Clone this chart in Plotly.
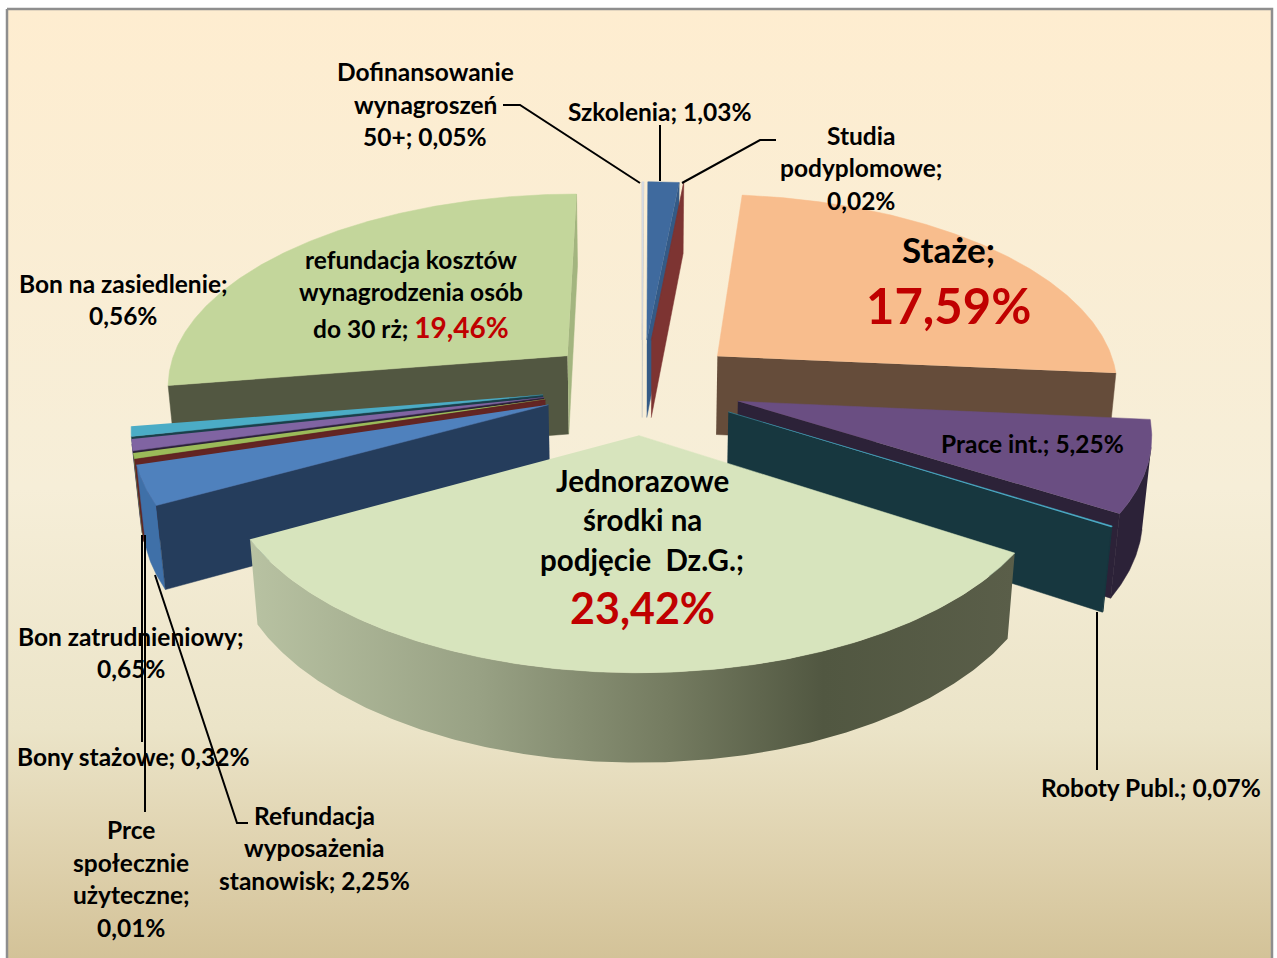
import numpy as np
import plotly.graph_objects as go

# ---- data (clockwise from 12 o'clock) ----
names = ["Dofinansowanie wynagroszeń 50+", "Szkolenia", "Studia podyplomowe", "Staże",
         "Prace int.", "Roboty Publ.", "Jednorazowe środki na podjęcie Dz.G.",
         "Refundacja wyposażenia stanowisk", "Prce społecznie użyteczne", "Bony stażowe",
         "Bon zatrudnieniowy", "Bon na zasiedlenie",
         "refundacja kosztów wynagrodzenia osób do 30 rż"]
values = [0.05, 1.03, 0.02, 17.59, 5.25, 0.07, 23.42, 2.25, 0.01, 0.32, 0.65, 0.56, 19.46]
top_colors = ["#d5dbe6", "#3f6a9e", "#7d3432", "#f8bd8d", "#6a4e82", "#4bacc6", "#d7e4bd",
              "#4f81bd", "#632523", "#9bbb59", "#8064a2", "#4bacc6", "#c3d69b"]
start_wall_colors = ["#c4c6c4", "#345a86", "#7d3432", "#654c3a", "#2c2238", "#17373f", "#c0cba8",
                     "#253d5c", "#632523", "#632523", "#2c2238", "#1b3f4a", "#525741"]
end_wall_colors = ["#c4c6c4", "#345a86", "#7d3432", "#654c3a", "#2c2238", "#17373f", "#c0cba8",
                   "#253d5c", "#632523", "#632523", "#2c2238", "#1b3f4a", "#a3b57f"]
outer_colors = ["#c4c6c4", "#3f6a9e", "#7d3432", "#a5805f", "#2c2238", "#17373f", "#8f9779",
                "#3f70a8", "#632523", "#7b9446", "#654f82", "#3a8a9e", "#a3b57f"]
jed_wall_scale = [[0, "#b8c2a2"], [0.3, "#98a184"], [0.55, "#747b60"], [0.75, "#515741"], [1, "#5a5e49"]]
bg_scale = [[0, "#d2c196"], [0.1, "#ddcfaa"], [0.25, "#ebe4c8"], [0.5, "#f6eed8"], [1, "#feedd0"]]

labels = [
    (425, 71, "Dofinansowanie"), (425, 104, "wynagroszeń"), (425, 136, "50+; 0,05%"),
    (660, 111, "Szkolenia; 1,03%"),
    (861, 135, "Studia"), (861, 167, "podyplomowe;"), (861, 200, "0,02%"),
    (1032, 443, "Prace int.; 5,25%"),
    (1151, 787, "Roboty Publ.; 0,07%"),
    (123, 283, "Bon na zasiedlenie;"), (123, 315, "0,56%"),
    (411, 259, "refundacja kosztów"), (411, 291, "wynagrodzenia osób"),
    (411, 327, "do 30 rż; <span style='color:#c00000;font-size:28px'>19,46%</span>"),
    (131, 636, "Bon zatrudnieniowy;"), (131, 668, "0,65%"),
    (133, 756, "Bony stażowe; 0,32%"),
    (131, 829, "Prce"), (131, 862, "społecznie"), (131, 894, "użyteczne;"), (131, 927, "0,01%"),
    (314, 815, "Refundacja"), (314, 847, "wyposażenia"), (314, 880, "stanowisk; 2,25%"),
]
big_labels = [
    (948, 249, "Staże;", 35, "#000000"), (948, 305, "17,59%", 49, "#c00000"),
    (642, 480, "Jednorazowe", 29.5, "#000000"), (642, 519, "środki na", 29.5, "#000000"),
    (642, 559, "podjęcie  Dz.G.;", 29.5, "#000000"), (642, 607, "23,42%", 43, "#c00000"),
]
leaders = [
    ([503, 520, 640], [105, 105, 183]),
    ([660, 660], [125, 181]),
    ([776, 760, 682], [140, 140, 183]),
    ([1097, 1097], [770, 612]),
    ([142, 142], [742, 535]),
    ([145, 145], [812, 535]),
    ([248, 237, 155], [823, 823, 575]),
]

# ---- projection ----
CX, CY = 642.0, 386.0
R, H, EXPL = 403.0, 92.0, 100.0
JED_R = 397.0
PHI = np.radians(28.5)
D = 2523.0
START = 0.0
CAM_Y = D * np.cos(PHI)


def project(X, Y, Z):
    depth = D - Y * np.cos(PHI) - Z * np.sin(PHI)
    k = D / depth
    return CX + X * k, CY + (Y * np.sin(PHI) - Z * np.cos(PHI)) * k


def poly(xs, ys, color=None, gradient=None):
    kw = dict(fillgradient=gradient) if gradient else dict(fillcolor=color)
    return go.Scatter(x=list(xs), y=list(ys), mode="lines", fill="toself",
                      line=dict(width=0.5, color=color or "rgba(0,0,0,0)"),
                      hoverinfo="skip", showlegend=False, **kw)


fig = go.Figure()

# background panel
fig.add_trace(go.Scatter(x=[7, 1272, 1272, 7, 7], y=[9, 9, 968, 968, 9], mode="lines", fill="toself",
                         line=dict(width=2.5, color="#8e8e8e"), hoverinfo="skip", showlegend=False,
                         fillgradient=dict(type="vertical", colorscale=bg_scale)))

vals = np.array(values, dtype=float)
ang = vals / vals.sum() * 360.0
ends = START + np.cumsum(ang)
starts = ends - ang
mids = (starts + ends) / 2

# back slices first: cos(mid) > 0 means far from the viewer
order = sorted(range(len(vals)), key=lambda j: -np.cos(np.radians(mids[j])))
for i in order:
    is_jed = names[i].startswith("Jednorazowe")
    rad = JED_R if is_jed else R
    m = np.radians(mids[i])
    ox, oy = EXPL * np.sin(m), -EXPL * np.cos(m)
    t = np.radians(np.linspace(starts[i], ends[i], max(3, int(ang[i] * 2) + 2)))
    ax, ay = ox + rad * np.sin(t), oy - rad * np.cos(t)

    # outer wall: only the part turned towards the camera
    facing = (np.sin(t) * (0 - ax) + (-np.cos(t)) * (CAM_Y - ay)) > 0
    if facing.sum() >= 2:
        fx, fy = ax[facing], ay[facing]
        wx = np.concatenate([fx, fx[::-1]])
        wy = np.concatenate([fy, fy[::-1]])
        wz = np.concatenate([np.zeros_like(fx), -H * np.ones_like(fx)])
        sx, sy = project(wx, wy, wz)
        if is_jed:
            fig.add_trace(poly(sx, sy, None, dict(type="horizontal", colorscale=jed_wall_scale)))
        else:
            fig.add_trace(poly(sx, sy, outer_colors[i]))

    # radial walls: only those turned towards the camera
    walls = [(t[0], ax[0], ay[0], -1.0, start_wall_colors[i]),
             (t[-1], ax[-1], ay[-1], 1.0, end_wall_colors[i])]
    for tw, a_x, a_y, sign, col in walls:
        nx, ny = sign * np.cos(tw), sign * np.sin(tw)
        if nx * (0 - ox) + ny * (CAM_Y - oy) <= 0:
            continue
        wx = np.array([ox, a_x, a_x, ox])
        wy = np.array([oy, a_y, a_y, oy])
        wz = np.array([0, 0, -H, -H])
        sx, sy = project(wx, wy, wz)
        fig.add_trace(poly(sx, sy, col))

    # top
    wx = np.concatenate([[ox], ax])
    wy = np.concatenate([[oy], ay])
    sx, sy = project(wx, wy, np.zeros_like(wx))
    fig.add_trace(poly(sx, sy, top_colors[i]))

for lx, ly in leaders:
    fig.add_trace(go.Scatter(x=lx, y=ly, mode="lines", line=dict(color="#000000", width=2),
                             hoverinfo="skip", showlegend=False))

for x, y, s in labels:
    fig.add_annotation(x=x, y=y, text=s, showarrow=False, xanchor="center", yanchor="middle",
                       font=dict(family="Lato", size=24.5, color="#000000", weight="bold"))
for x, y, s, size, col in big_labels:
    fig.add_annotation(x=x, y=y, text=s, showarrow=False, xanchor="center", yanchor="middle",
                       font=dict(family="Lato", size=size, color=col, weight="bold"))

fig.update_layout(
    width=1277, height=958, margin=dict(l=0, r=0, t=0, b=0),
    paper_bgcolor="#ffffff", plot_bgcolor="#ffffff",
    xaxis=dict(range=[0, 1277], visible=False, fixedrange=True),
    yaxis=dict(range=[958, 0], visible=False, fixedrange=True),
)
fig.write_html("out.html", config={"displayModeBar": False},
               post_script="document.body.style.margin='0';")
